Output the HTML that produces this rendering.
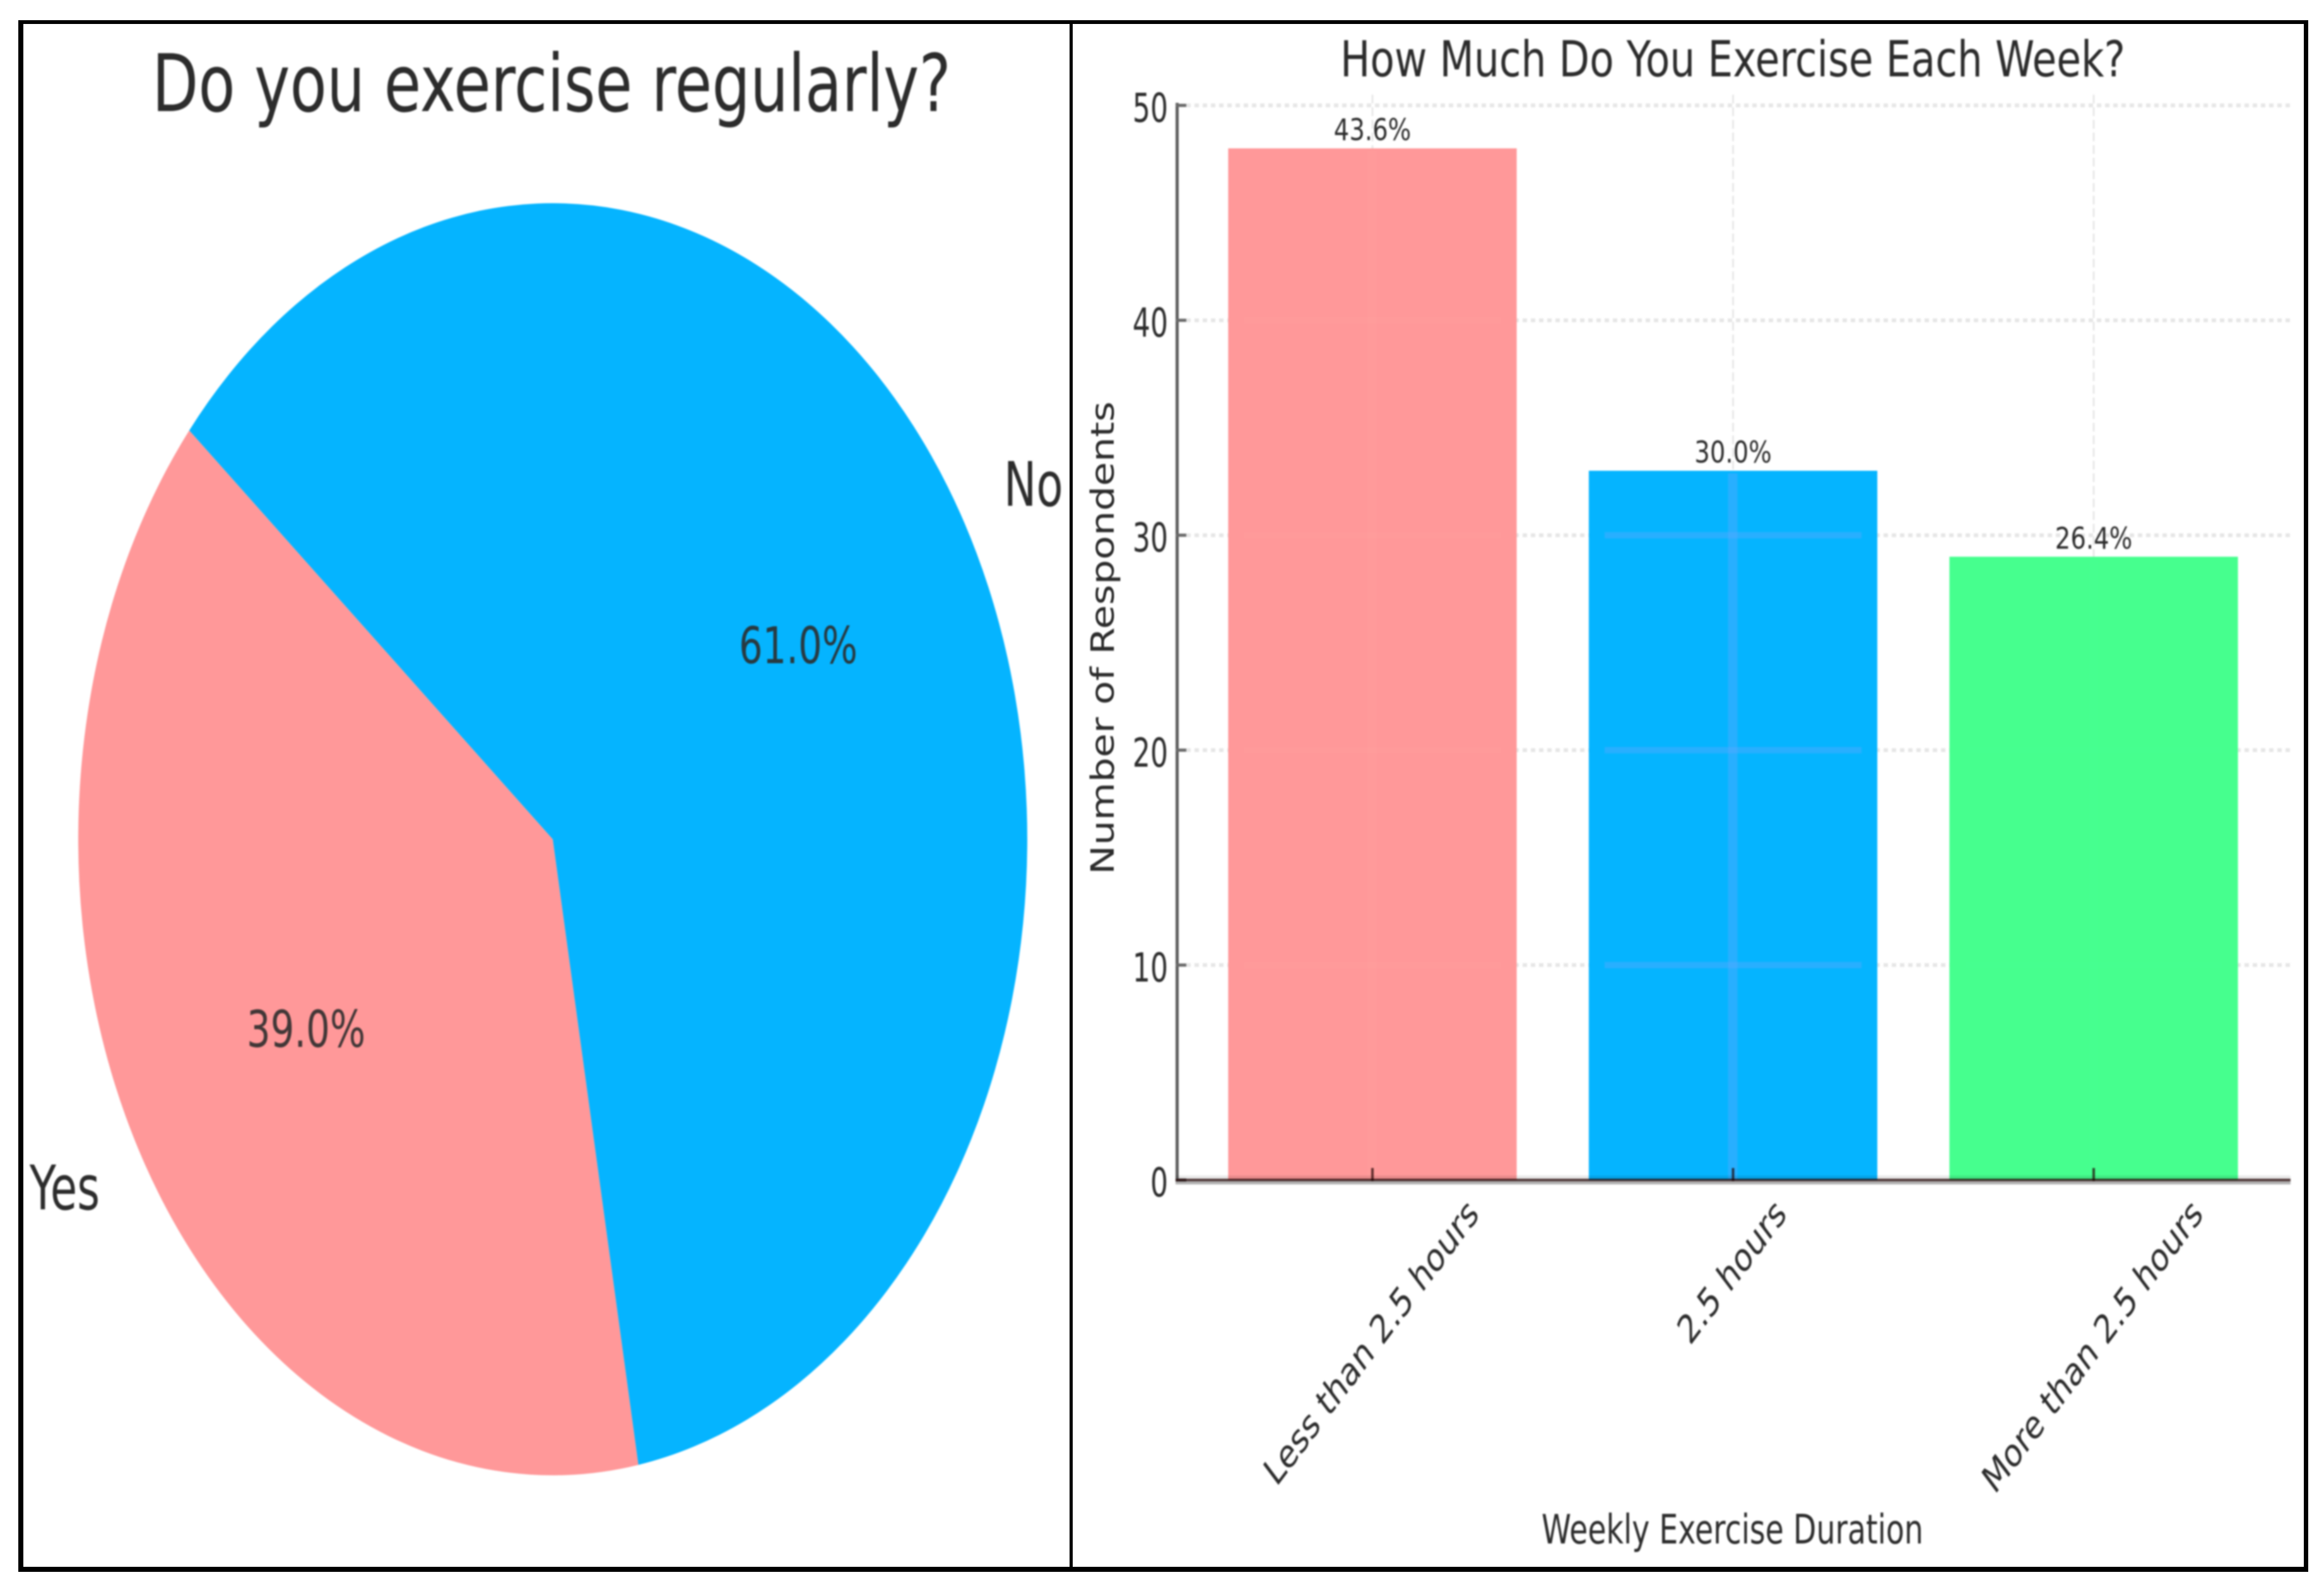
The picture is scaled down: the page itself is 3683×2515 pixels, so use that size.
<!DOCTYPE html>
<html lang="en">
<head>
<meta charset="utf-8">
<title>Exercise survey charts</title>
<style>
html,body{margin:0;padding:0;background:#fff;}
svg{display:block;}
text{font-family:"DejaVu Sans","Liberation Sans",sans-serif;fill:#2c2c2c;}
#pie-layer,#bar-layer,.soft{filter:blur(1.2px);}
</style>
</head>
<body>
<svg id="figure" xmlns="http://www.w3.org/2000/svg" width="3683" height="2515" viewBox="0 0 3683 2515">
  <rect x="0" y="0" width="3683" height="2515" fill="#fff"/>
  <g id="pie-layer"></g>
  <g id="bar-layer"></g>
  <text class="soft" x="241" y="176" font-size="126" textLength="1266" lengthAdjust="spacingAndGlyphs">Do you exercise regularly?</text>
  <text class="soft" x="2124" y="121" font-size="78" textLength="1244" lengthAdjust="spacingAndGlyphs">How Much Do You Exercise Each Week?</text>
  <text class="soft" x="2443" y="2446" font-size="64" textLength="605" lengthAdjust="spacingAndGlyphs">Weekly Exercise Duration</text>
  <text class="soft" transform="translate(1765,1386) scale(.82,1) rotate(-90)" x="0" y="0" font-size="61.4" textLength="750" lengthAdjust="spacingAndGlyphs">Number of Respondents</text>
  <rect x="29" y="32" width="3629" height="6" fill="#000"/>
  <rect x="29" y="2483" width="3629" height="8" fill="#000"/>
  <rect x="29" y="32" width="8" height="2459" fill="#000"/>
  <rect x="3651" y="32" width="7" height="2459" fill="#000"/>
  <rect x="1695" y="32" width="5" height="2459" fill="#000"/>
</svg>
<script>
// ---- pie chart data ----
const pieLabels = ['Yes', 'No'];
const pieValues = [39, 61];
const piePercentLabels = ['39.0%', '61.0%'];
const pieStartAngle = 140;

// ---- bar chart data ----
const barCategories = ['Less than 2.5 hours', '2.5 hours', 'More than 2.5 hours'];
const barCounts = [48, 33, 29];
const barPercentLabels = ['43.6%', '30.0%', '26.4%'];
const yTickValues = [0, 10, 20, 30, 40, 50];

// ---- palettes ----
const pieColors = ['#ff9899', '#05b4ff'];
const barColors = ['#ff9899', '#05b4ff', '#46ff8e'];
const barGridTints = ['rgba(255,170,165,.12)', 'rgba(90,170,255,.42)', 'rgba(90,255,170,.06)'];

const NS = 'http://www.w3.org/2000/svg';
const pieLayer = document.getElementById('pie-layer');
const barLayer = document.getElementById('bar-layer');

function make(tag, parent) {
  const el = document.createElementNS(NS, tag);
  parent.appendChild(el);
  return el;
}

// ---- pie scales ----
const PIE_CX = 876, PIE_CY = 1330, PIE_RX = 752, PIE_RY = 1008;
function pieX(deg, k) { return PIE_CX + Math.cos(deg * Math.PI / 180) * PIE_RX * k; }
function pieY(deg, k) { return PIE_CY - Math.sin(deg * Math.PI / 180) * PIE_RY * k; }

const pieTotal = pieValues.reduce(function (a, b) { return a + b; }, 0);
let pieAngle = pieStartAngle;
pieValues.forEach(function (v, i) {
  const sweep = v / pieTotal * 360;
  const a0 = pieAngle, a1 = pieAngle + sweep, mid = pieAngle + sweep / 2;
  const large = sweep > 180 ? 1 : 0;
  const isLeft = Math.cos(mid * Math.PI / 180) < 0;

  const slice = make('path', pieLayer);
  
  
  slice.setAttribute('fill', pieColors[i]);
  slice.setAttribute('d',
    'M' + PIE_CX + ' ' + PIE_CY +
    'L' + pieX(a0, 1) + ' ' + pieY(a0, 1) +
    'A' + PIE_RX + ' ' + PIE_RY + ' 0 ' + large + ' 0 ' + pieX(a1, 1) + ' ' + pieY(a1, 1) + 'Z');

  const name = make('text', pieLayer);
  
  
  name.setAttribute('font-size', '97');
  name.setAttribute('text-anchor', isLeft ? 'end' : 'start');
  name.setAttribute('transform', 'translate(' + (pieX(mid, 1.1) + (isLeft ? -3 : 0)) + ',' + (pieY(mid, 1.1) + 29) + ') scale(.71,1)');
  name.textContent = pieLabels[i];

  const pct = make('text', pieLayer);
  
  
  pct.setAttribute('font-size', '80');
  pct.setAttribute('text-anchor', 'middle');
  pct.setAttribute('fill-opacity', '.9');
  pct.setAttribute('transform', 'translate(' + (pieX(mid, 0.6) - 1) + ',' + (pieY(mid, 0.6) + 25) + ') scale(.74,1)');
  pct.textContent = piePercentLabels[i];

  pieAngle = a1;
});

// ---- bar scales ----
const X0 = 2175, X_STEP = 571.5, BAR_W = 0.8 * X_STEP;
const Y0 = 1870, Y_UNIT = 34.06;
const AXIS_LEFT = 1863, AXIS_RIGHT = 3630;
function xScale(i) { return X0 + X_STEP * i; }
function yScale(v) { return Y0 - Y_UNIT * v; }

// horizontal grid
yTickValues.forEach(function (t) {
  if (t > 0) {
    const g = make('line', barLayer);
    
    
    g.setAttribute('x1', 1880);
    g.setAttribute('x2', AXIS_RIGHT);
    g.setAttribute('y1', yScale(t));
    g.setAttribute('y2', yScale(t));
    g.setAttribute('stroke', '#e6e6e6');
    g.setAttribute('stroke-width', '6');
    g.setAttribute('stroke-dasharray', '7 6');
  }
});

// vertical grid
barCategories.forEach(function (c, i) {
  const g = make('line', barLayer);
  
  
  g.setAttribute('x1', xScale(i));
  g.setAttribute('x2', xScale(i));
  g.setAttribute('y1', 150);
  g.setAttribute('y2', Y0);
  g.setAttribute('stroke', '#e8e8e8');
  g.setAttribute('stroke-width', '3');
  g.setAttribute('stroke-dasharray', '14 6');
});

// bars
barCounts.forEach(function (v, i) {
  const bar = make('rect', barLayer);
  
  
  bar.setAttribute('x', xScale(i) - BAR_W / 2);
  bar.setAttribute('y', yScale(v));
  bar.setAttribute('width', BAR_W);
  bar.setAttribute('height', Y0 - yScale(v));
  bar.setAttribute('fill', barColors[i]);

  const band = make('rect', barLayer);
  
  
  band.setAttribute('x', xScale(i) - 8);
  band.setAttribute('y', yScale(v) + 4);
  band.setAttribute('width', 15);
  band.setAttribute('height', Math.max(0, Y0 - yScale(v) - 4));
  band.setAttribute('fill', barGridTints[i]);

  yTickValues.forEach(function (t) {
    if (t > 0 && t < v) {
      const h = make('rect', barLayer);
      
      
      h.setAttribute('x', xScale(i) - BAR_W / 2 + 25);
      h.setAttribute('y', yScale(t) - 5);
      h.setAttribute('width', BAR_W - 50);
      h.setAttribute('height', 10);
      h.setAttribute('fill', barGridTints[i]);
    }
  });

  const value = make('text', barLayer);
  
  
  value.setAttribute('font-size', '47');
  value.setAttribute('text-anchor', 'middle');
  value.setAttribute('transform', 'translate(' + xScale(i) + ',' + (yScale(v) - 13) + ') scale(.82,1)');
  value.textContent = barPercentLabels[i];
});

// y axis spine
const ySpine = make('rect', barLayer);


ySpine.setAttribute('x', AXIS_LEFT);
ySpine.setAttribute('y', yScale(50) - 4);
ySpine.setAttribute('width', 5);
ySpine.setAttribute('height', Y0 - yScale(50) + 6);
ySpine.setAttribute('fill', '#5f5f5f');

// y ticks + labels
yTickValues.forEach(function (t) {
  const tick = make('rect', barLayer);
  
  
  tick.setAttribute('x', AXIS_LEFT);
  tick.setAttribute('y', yScale(t) - 2.5);
  tick.setAttribute('width', 17);
  tick.setAttribute('height', 5);
  tick.setAttribute('fill', '#6a6a6a');

  const label = make('text', barLayer);
  
  
  label.setAttribute('font-size', '63');
  label.setAttribute('text-anchor', 'end');
  label.setAttribute('transform', 'translate(1851,' + (yScale(t) + 26) + ') scale(.70,1)');
  label.textContent = String(t);
});

// x axis line (dark core with soft bands, like the resampled source)
const xAxisTop = make('rect', barLayer);


xAxisTop.setAttribute('x', AXIS_LEFT);
xAxisTop.setAttribute('y', Y0 - 7);
xAxisTop.setAttribute('width', AXIS_RIGHT - AXIS_LEFT);
xAxisTop.setAttribute('height', 5);
xAxisTop.setAttribute('fill', 'rgba(0,0,0,.09)');

const xAxisCore = make('rect', barLayer);


xAxisCore.setAttribute('x', AXIS_LEFT);
xAxisCore.setAttribute('y', Y0 - 2);
xAxisCore.setAttribute('width', AXIS_RIGHT - AXIS_LEFT);
xAxisCore.setAttribute('height', 4);
xAxisCore.setAttribute('fill', 'rgba(30,0,0,.78)');

const xAxisLow = make('rect', barLayer);


xAxisLow.setAttribute('x', AXIS_LEFT);
xAxisLow.setAttribute('y', Y0 + 2);
xAxisLow.setAttribute('width', AXIS_RIGHT - AXIS_LEFT);
xAxisLow.setAttribute('height', 5);
xAxisLow.setAttribute('fill', 'rgba(0,0,0,.3)');

// x ticks + rotated labels
barCategories.forEach(function (c, i) {
  const tick = make('rect', barLayer);
  
  
  tick.setAttribute('x', xScale(i) - 2);
  tick.setAttribute('y', Y0 - 19);
  tick.setAttribute('width', 4);
  tick.setAttribute('height', 21);
  tick.setAttribute('fill', 'rgba(30,0,0,.7)');

  const label = make('text', barLayer);
  
  
  label.setAttribute('font-size', '62');
  label.setAttribute('text-anchor', 'middle');
  label.setAttribute('dominant-baseline', 'central');
  label.textContent = c;
  const len = label.getComputedTextLength();
  const cy = 1895 + (len + 0.76 * 62) * 0.7071 / 2;
  label.setAttribute('transform', 'translate(' + (xScale(i) - 2) + ',' + cy + ') scale(.75,1) rotate(-45)');
});
</script>
</body>
</html>
